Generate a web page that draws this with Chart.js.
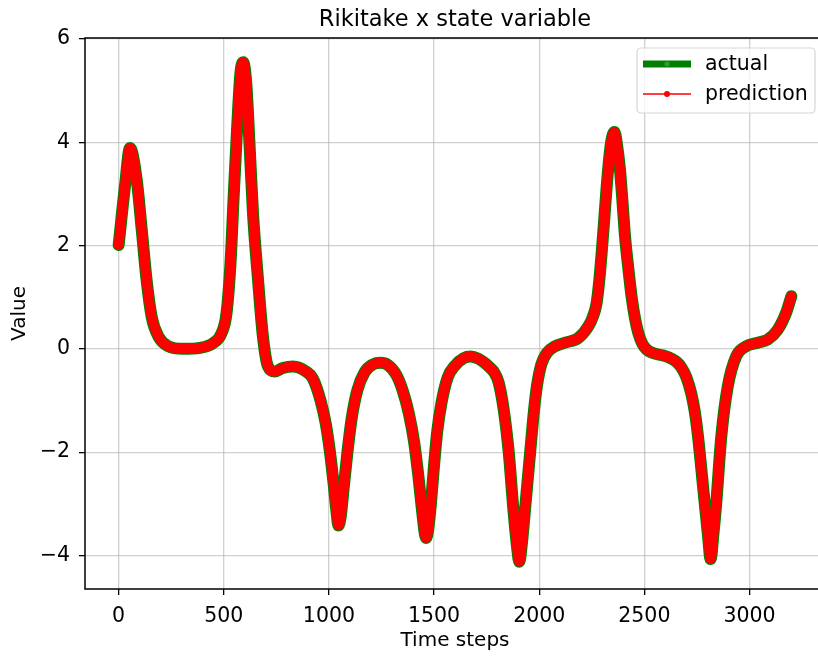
<!DOCTYPE html>
<html>
<head>
<meta charset="utf-8">
<script src="https://cdn.jsdelivr.net/npm/chart.js@4/dist/chart.umd.min.js"></script>
<style>
    html, body { margin: 0; padding: 0; background: #fff; overflow: hidden; }
    #wrap { width: 830px; height: 657px; }
</style>
</head>
<body>
<div id="wrap"><canvas id="rikitake-chart" width="830" height="657"></canvas></div>
<script>
// Dữ liệu
const timeSteps = [
    0, 30, 54, 86, 110, 133, 157, 189, 236, 307,
    386, 449, 489, 513, 532, 547, 563, 579, 592, 607,
    623, 639, 663, 686, 710, 742, 781, 829, 892, 923,
    960, 985, 1005, 1022, 1036, 1045, 1056, 1070, 1088, 1108,
    1135, 1170, 1210, 1245, 1280, 1320, 1350, 1380, 1405, 1425,
    1442, 1455, 1462, 1472, 1485, 1500, 1515, 1535, 1565, 1600,
    1640, 1675, 1710, 1740, 1765, 1785, 1807, 1831, 1855, 1878,
    1895, 1905, 1918, 1935, 1957, 1975, 1989, 2010, 2036, 2076,
    2123, 2186, 2234, 2255, 2273, 2285, 2297, 2310, 2321, 2333,
    2344, 2358, 2370, 2384, 2396, 2408, 2424, 2439, 2455, 2471,
    2490, 2510, 2535, 2566, 2600, 2629, 2655, 2676, 2700, 2724,
    2740, 2755, 2779, 2803, 2815, 2828, 2842, 2866, 2897, 2937,
    2984, 3040, 3087, 3134, 3174, 3199
];
const actualValues = [
    2.01, 3.15, 3.89, 3.27, 2.30, 1.33, 0.62, 0.24, 0.05, 0.00,
    0.02, 0.11, 0.30, 0.69, 1.66, 2.95, 4.24, 5.33, 5.55, 5.14,
    3.91, 2.62, 1.33, 0.24, -0.34, -0.44, -0.37, -0.34, -0.44, -0.57,
    -1.00, -1.45, -2.00, -2.60, -3.15, -3.42, -3.25, -2.70, -2.00, -1.35,
    -0.80, -0.45, -0.30, -0.27, -0.31, -0.50, -0.80, -1.25, -1.80, -2.45,
    -3.10, -3.55, -3.66, -3.50, -3.00, -2.25, -1.60, -1.05, -0.55, -0.32,
    -0.18, -0.15, -0.19, -0.27, -0.36, -0.45, -0.65, -1.17, -2.00, -3.15,
    -3.85, -4.12, -3.75, -3.00, -2.00, -1.20, -0.72, -0.30, -0.08, 0.05,
    0.12, 0.21, 0.44, 0.62, 0.89, 1.30, 1.86, 2.55, 3.15, 3.70,
    4.05, 4.20, 3.95, 3.47, 2.85, 2.18, 1.55, 1.02, 0.60, 0.31,
    0.10, -0.01, -0.07, -0.11, -0.14, -0.19, -0.26, -0.36, -0.55, -0.88,
    -1.22, -1.69, -2.66, -3.63, -4.07, -3.60, -2.98, -1.69, -0.72, -0.14,
    0.05, 0.12, 0.18, 0.37, 0.70, 1.02
];
// dự đoán trùng với thực tế trên hình
const predictionValues = actualValues;
const xTicks = [0, 500, 1000, 1500, 2000, 2500, 3000];
const yTicks = [-4, -2, 0, 2, 4, 6];

const FONT = "'DejaVu Sans', sans-serif";

function toPoints(xs, ys) {
    return xs.map((x, i) => ({ x: x, y: ys[i] }));
}

function fmtTick(v) {
    return String(v).replace('-', '\u2212');
}

// Khung viền (trái, trên, dưới) + tiêu đề căn giữa vùng vẽ
const framePlugin = {
    id: 'frame',
    afterDatasetsDraw(chart) {
        const { ctx, chartArea: a } = chart;
        ctx.save();
        ctx.strokeStyle = '#000';
        ctx.lineWidth = 1.5;
        ctx.beginPath();
        ctx.moveTo(a.right, a.top);
        ctx.lineTo(a.left, a.top);
        ctx.lineTo(a.left, a.bottom);
        ctx.lineTo(a.right, a.bottom);
        ctx.stroke();
        ctx.fillStyle = '#000';
        ctx.font = '22.5px ' + FONT;
        ctx.textAlign = 'center';
        ctx.textBaseline = 'alphabetic';
        ctx.fillText('Rikitake x state variable', (a.left + a.right) / 2, 25.5);
        ctx.restore();
    }
};

// Chú thích kiểu matplotlib
const legendPlugin = {
    id: 'mplLegend',
    afterDraw(chart) {
        const ctx = chart.ctx;
        const sets = chart.data.datasets;
        const x0 = 637, y0 = 48, w = 178, h = 65, r = 4;
        ctx.save();
        ctx.beginPath();
        ctx.roundRect(x0, y0, w, h, r);
        ctx.fillStyle = 'rgba(255,255,255,0.8)';
        ctx.fill();
        ctx.strokeStyle = '#d6d6d6';
        ctx.lineWidth = 1.2;
        ctx.stroke();
        sets.forEach((ds, i) => {
            const cy = 64 + i * 30;
            ctx.beginPath();
            ctx.moveTo(643, cy);
            ctx.lineTo(691, cy);
            ctx.strokeStyle = ds.borderColor;
            ctx.lineWidth = ds.legendWidth;
            ctx.stroke();
            ctx.beginPath();
            ctx.arc(667, cy, ds.legendDot, 0, Math.PI * 2);
            ctx.fillStyle = ds.legendDotColor;
            ctx.fill();
            ctx.fillStyle = '#000';
            ctx.font = '20.5px ' + FONT;
            ctx.textBaseline = 'middle';
            ctx.textAlign = 'left';
            ctx.fillText(ds.label, 705, cy + 1);
        });
        ctx.restore();
    }
};

function initRikitakeChart() {
    const ctx = document.getElementById('rikitake-chart').getContext('2d');
    return new Chart(ctx, {
        type: 'line',
        data: {
            datasets: [{
                label: 'actual',
                data: toPoints(timeSteps, actualValues),
                borderColor: '#008000',
                borderWidth: 12,
                borderCapStyle: 'round',
                borderJoinStyle: 'round',
                pointRadius: 0,
                cubicInterpolationMode: 'monotone',
                order: 1,
                legendWidth: 7,
                legendDot: 2.5,
                legendDotColor: '#2f9a2f'
            }, {
                label: 'prediction',
                data: toPoints(timeSteps, predictionValues),
                borderColor: '#ff0000',
                borderWidth: 10,
                borderCapStyle: 'round',
                borderJoinStyle: 'round',
                pointRadius: 0,
                cubicInterpolationMode: 'monotone',
                order: 0,
                legendWidth: 1.5,
                legendDot: 3,
                legendDotColor: '#ff0000'
            }]
        },
        options: {
            responsive: false,
            animation: false,
            layout: { padding: { left: 0, right: 5, top: 38, bottom: 0 } },
            plugins: {
                legend: { display: false },
                tooltip: { enabled: false },
                title: { display: false }
            },
            scales: {
                x: {
                    type: 'linear',
                    min: -160,
                    max: 3359,
                    afterBuildTicks: (scale) => { scale.ticks = xTicks.map(v => ({ value: v })); },
                    afterFit: (scale) => { scale.height = 68; },
                    grid: { color: 'rgba(176,176,176,0.6)', lineWidth: 1.3, tickColor: '#000', tickLength: 6, drawTicks: true },
                    border: { display: false },
                    ticks: { color: '#000', font: { family: FONT, size: 20.5 }, padding: 9, maxRotation: 0, callback: fmtTick },
                    title: { display: true, text: 'Time steps', color: '#000', font: { family: FONT, size: 20 }, padding: { top: 0, bottom: 4 } }
                },
                y: {
                    min: -4.65,
                    max: 6.02,
                    afterBuildTicks: (scale) => { scale.ticks = yTicks.map(v => ({ value: v })); },
                    afterFit: (scale) => { scale.width = 85; },
                    grid: { color: 'rgba(176,176,176,0.6)', lineWidth: 1.3, tickColor: '#000', tickLength: 6, drawTicks: true },
                    border: { display: false },
                    ticks: { color: '#000', font: { family: FONT, size: 20.5 }, padding: 9, callback: fmtTick },
                    title: { display: true, text: 'Value', color: '#000', font: { family: FONT, size: 20 }, padding: { top: 7.5, bottom: 0 } }
                }
            }
        },
        plugins: [framePlugin, legendPlugin]
    });
}

initRikitakeChart();
</script>
</body>
</html>
